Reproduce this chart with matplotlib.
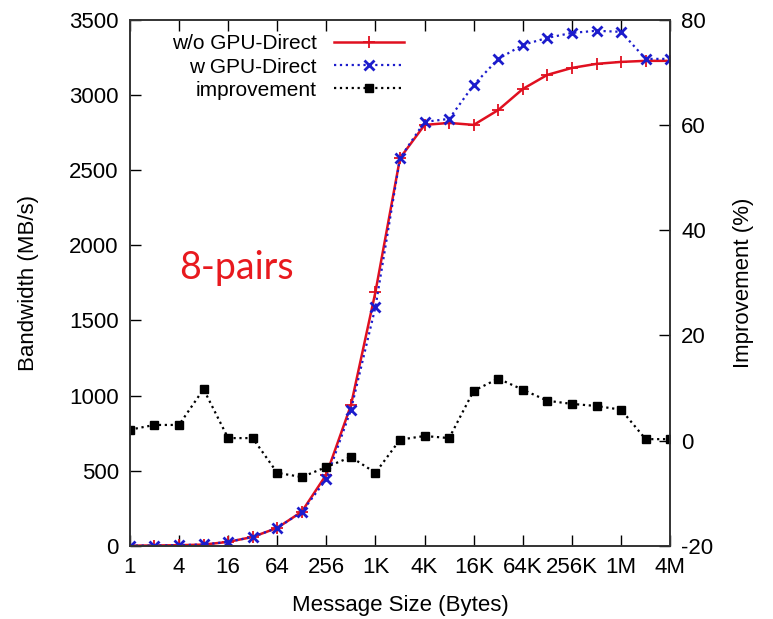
import matplotlib.pyplot as plt

# message sizes in bytes (1 .. 4M)
sizes = [1, 2, 4, 8, 16, 32, 64, 128, 256, 512, 1024, 2048, 4096, 8192,
         16384, 32768, 65536, 131072, 262144, 524288, 1048576, 2097152, 4194304]

bw_without = [2, 3, 5, 9, 27, 60, 120, 228, 475, 935, 1690, 2580, 2801, 2814,
              2801, 2900, 3040, 3134, 3180, 3207, 3220, 3227, 3227]
bw_with = [2, 3, 5, 10, 27, 60, 120, 226, 445, 905, 1590, 2580, 2821, 2841,
           3067, 3240, 3333, 3380, 3413, 3427, 3420, 3240, 3240]
improvement = [2.1, 3.0, 3.0, 9.8, 0.5, 0.5, -6.1, -6.9, -5.0, -3.1, -6.1, 0.2,
               0.9, 0.5, 9.5, 11.8, 9.7, 7.6, 7.0, 6.6, 5.9, 0.3, 0.3]

tick_vals = [1, 4, 16, 64, 256, 1024, 4096, 16384, 65536, 262144, 1048576, 4194304]
tick_labels = ['1', '4', '16', '64', '256', '1K', '4K', '16K', '64K', '256K', '1M', '4M']

plt.rcParams['font.family'] = ['Liberation Sans', 'DejaVu Sans']
plt.rcParams['axes.unicode_minus'] = False

fig = plt.figure(figsize=(7.73, 6.19), dpi=100)
ax = fig.add_axes([0.168, 0.118, 0.699, 0.850])
ax2 = ax.twinx()

red = '#e01020'
blue = '#1c1ccc'

l1, = ax.plot(sizes, bw_without, color=red, lw=1.8, marker='+', ms=8, mew=1.3,
              label='w/o GPU-Direct')
l2, = ax.plot(sizes, bw_with, color=blue, lw=1.6, ls=':', marker='x', ms=7, mew=2,
              label='w GPU-Direct')
l3, = ax2.plot(sizes, improvement, color='black', lw=1.6, ls=':', marker='s', ms=6,
               label='improvement')

ax.set_xscale('log', base=2)
ax.set_xlim(1, 4194304)
ax.set_ylim(0, 3500)
ax2.set_ylim(-20, 80)
ax.set_xticks(tick_vals)
ax.set_xticklabels(tick_labels)
ax.xaxis.set_minor_locator(plt.NullLocator())
ax.set_yticks(range(0, 3501, 500))
ax2.set_yticks(range(-20, 81, 20))

fs = 16
ax.tick_params(axis='x', direction='in', length=8, width=1, labelsize=fs, top=True, pad=8)
ax.tick_params(axis='y', direction='in', length=8, width=1, labelsize=fs, pad=8)
ax2.tick_params(axis='y', direction='in', length=8, width=1, labelsize=fs, pad=8)
for a in (ax, ax2):
    for s in a.spines.values():
        s.set_linewidth(1.2)
        s.set_color('#333333')

ax.set_xlabel('Message Size (Bytes)', fontsize=fs, labelpad=12)
ax.set_ylabel('Bandwidth (MB/s)', fontsize=fs, labelpad=22)
ax2.set_ylabel('Improvement (%)', fontsize=fs, labelpad=14, rotation=90)

ax.text(0.092, 0.528, '8-pairs', transform=ax.transAxes, color='#e8191e',
        fontsize=27, family='Lato', va='center')

leg = ax.legend(handles=[l1, l2, l3], loc='upper right', bbox_to_anchor=(0.535, 1.0),
                frameon=False, markerfirst=False, fontsize=15, handlelength=3.4,
                labelspacing=0.2, handletextpad=0.8, borderaxespad=0.3)
leg._legend_box.get_children()[1].get_children()[0].align = 'right'

fig.savefig('out.png', dpi=100)
